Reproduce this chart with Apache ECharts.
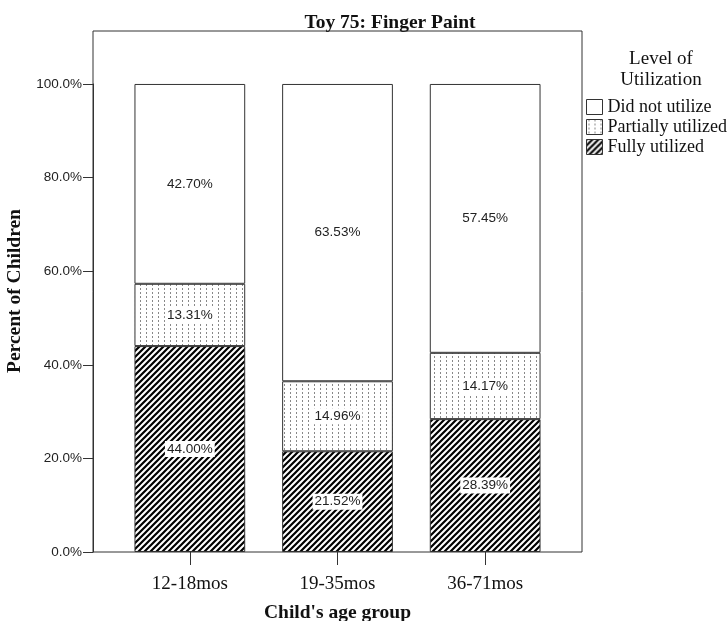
<!DOCTYPE html>
<html>
<head>
<meta charset="utf-8">
<script src="https://cdn.jsdelivr.net/npm/echarts@6/dist/echarts.min.js"></script>
<style>
  html, body { margin: 0; padding: 0; background: #fff; }
  #main { width: 728px; height: 621px; }
</style>
</head>
<body>
<div id="main"></div>
<script>
// data
var ageGroups = ['12-18mos', '19-35mos', '36-71mos'];
var fully = [44.00, 21.52, 28.39];
var partially = [13.31, 14.96, 14.17];
var notUsed = [42.70, 63.53, 57.45];
var yTicks = [0, 20, 40, 60, 80, 100];

// hatch "/" pattern
function hatch() {
	var c = document.createElement('canvas');
	c.width = 6; c.height = 6;
	var g = c.getContext('2d');
	g.fillStyle = '#fff';
	g.fillRect(0, 0, 6, 6);
	g.strokeStyle = '#000';
	g.lineWidth = 2.2;
	g.beginPath();
	g.moveTo(0, 6); g.lineTo(6, 0);
	g.moveTo(-3, 3); g.lineTo(3, -3);
	g.moveTo(3, 9); g.lineTo(9, 3);
	g.stroke();
	return { image: c, repeat: 'repeat' };
}

// dotted vertical lines
function dots() {
	var c = document.createElement('canvas');
	c.width = 6; c.height = 4;
	var g = c.getContext('2d');
	g.fillStyle = '#fff';
	g.fillRect(0, 0, 6, 4);
	g.fillStyle = '#888';
	g.fillRect(2, 0, 1, 2);
	return { image: c, repeat: 'repeat' };
}

var labelOpt = {
	show: true,
	position: 'inside',
	formatter: function(p) { return p.value.toFixed(2) + '%'; },
	fontFamily: 'Liberation Sans',
	fontSize: 13.5,
	color: '#222',
	backgroundColor: '#fff',
	padding: [1, 2]
};

var border = { borderColor: '#333', borderWidth: 1 };

var chart = echarts.init(document.getElementById('main'));
chart.setOption({
	backgroundColor: '#fff',
	animation: false,
	title: [{
		text: 'Toy 75: Finger Paint',
		left: 385,
		top: 8,
		textAlign: 'center',
		textStyle: { fontFamily: 'Liberation Serif', fontWeight: 'bold', fontSize: 19.5, color: '#111' }
	}, {
		text: 'Level of\nUtilization',
		left: 656,
		top: 44,
		textAlign: 'center',
		textStyle: { fontFamily: 'Liberation Serif', fontWeight: 'normal', fontSize: 19, color: '#111', lineHeight: 21 }
	}],
	legend: {
		orient: 'vertical',
		left: 581,
		top: 93,
		itemWidth: 16,
		itemHeight: 15,
		itemGap: 2,
		icon: 'rect',
		data: ['Did not utilize', 'Partially utilized', 'Fully utilized'],
		itemStyle: { borderColor: '#333', borderWidth: 1 },
		textStyle: { fontFamily: 'Liberation Serif', fontSize: 18, color: '#111' }
	},
	grid: { left: 116, right: 169, top: 84, bottom: 69, outerBoundsMode: 'none', containLabel: false },
	graphic: [{
		type: 'rect',
		shape: { x: 93, y: 31, width: 489, height: 521 },
		style: { fill: 'none', stroke: '#333', lineWidth: 1 },
		z: 10
	}, {
		type: 'text',
		x: 15,
		y: 291,
		rotation: Math.PI / 2,
		style: {
			text: 'Percent of Children',
			fontFamily: 'Liberation Serif',
			fontWeight: 'bold',
			fontSize: 19.5,
			fill: '#111',
			align: 'center',
			verticalAlign: 'middle'
		}
	}],
	xAxis: {
		type: 'category',
		data: ageGroups,
		name: "Child's age group",
		nameLocation: 'middle',
		nameGap: 51,
		nameTextStyle: { fontFamily: 'Liberation Serif', fontWeight: 'bold', fontSize: 19.5, color: '#111' },
		axisLine: { show: false },
		axisTick: { show: true, alignWithLabel: true, length: 13, lineStyle: { color: '#333' } },
		axisLabel: { fontFamily: 'Liberation Serif', fontSize: 19, color: '#111', margin: 23 }
	},
	yAxis: {
		type: 'value',
		min: yTicks[0],
		max: yTicks[yTicks.length - 1],
		interval: 20,
		offset: 23,
		axisLine: { show: true, lineStyle: { color: '#333' } },
		axisTick: { show: true, length: 10, lineStyle: { color: '#333' } },
		splitLine: { show: false },
		axisLabel: {
			fontFamily: 'Liberation Sans',
			fontSize: 13.5,
			color: '#222',
			margin: 11,
			formatter: function(v) { return v.toFixed(1) + '%'; }
		}
	},
	series: [{
		name: 'Fully utilized',
		type: 'bar',
		stack: 'all',
		barWidth: '75%',
		data: fully,
		itemStyle: Object.assign({ color: hatch() }, border),
		label: labelOpt
	}, {
		name: 'Partially utilized',
		type: 'bar',
		stack: 'all',
		data: partially,
		itemStyle: Object.assign({ color: dots() }, border),
		label: labelOpt
	}, {
		name: 'Did not utilize',
		type: 'bar',
		stack: 'all',
		data: notUsed,
		itemStyle: Object.assign({ color: '#fff' }, border),
		label: labelOpt
	}]
});
</script>
</body>
</html>
